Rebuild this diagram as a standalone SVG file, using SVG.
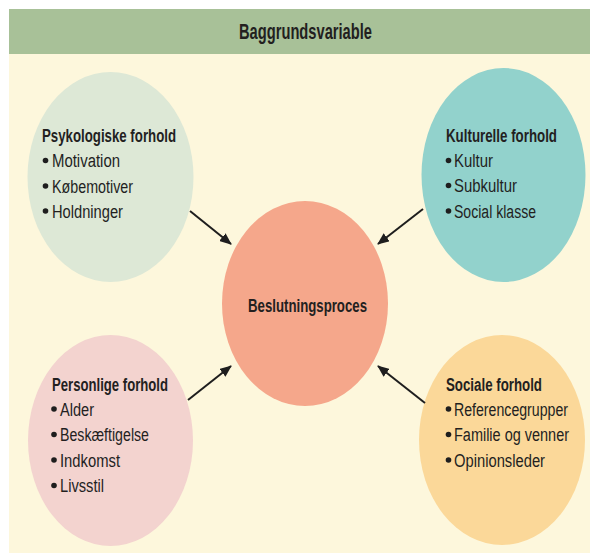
<svg xmlns="http://www.w3.org/2000/svg" width="590" height="555" viewBox="0 0 590 555">
  <defs>
    <marker id="arrow" markerUnits="userSpaceOnUse" markerWidth="12" markerHeight="10" refX="11" refY="5" orient="auto">
      <path d="M0,0 L12,5 L0,10 z" fill="#1e1e1e"/>
    </marker>
  </defs>
  <style>
    text { font-family: "Liberation Sans", Arial, sans-serif; fill: #231f1f; }
    .hdr { font-size: 22px; font-weight: bold; }
    .h { font-size: 18px; font-weight: bold; }
    .i { font-size: 18px; }
    .b { fill: #1e1e1e; }
    .conn { stroke: #1e1e1e; stroke-width: 2; fill: none; marker-end: url(#arrow); }
  </style>

  <rect x="0" y="0" width="590" height="555" fill="#ffffff"/>
  <rect x="9" y="54" width="581" height="499" fill="#fdf7dc"/>

  <g id="header">
    <rect x="9" y="9" width="581" height="45" fill="#a8c198"/>
    <text class="hdr" x="239" y="38.5" textLength="133" lengthAdjust="spacingAndGlyphs">Baggrundsvariable</text>
  </g>

  <g id="psykologiske">
    <ellipse cx="110.5" cy="177" rx="83" ry="105" fill="#dde8d6"/>
    <text class="h" x="42" y="142" textLength="134" lengthAdjust="spacingAndGlyphs">Psykologiske forhold</text>
    <circle class="b" cx="45.5" cy="160.5" r="2.8"/>
    <text class="i" x="52" y="167" textLength="68" lengthAdjust="spacingAndGlyphs">Motivation</text>
    <circle class="b" cx="45.5" cy="186" r="2.8"/>
    <text class="i" x="52" y="192.5" textLength="81" lengthAdjust="spacingAndGlyphs">Købemotiver</text>
    <circle class="b" cx="45.5" cy="211" r="2.8"/>
    <text class="i" x="52" y="217.5" textLength="71" lengthAdjust="spacingAndGlyphs">Holdninger</text>
  </g>

  <g id="kulturelle">
    <ellipse cx="503.5" cy="175" rx="82" ry="107" fill="#92d2cc"/>
    <text class="h" x="446" y="142" textLength="111" lengthAdjust="spacingAndGlyphs">Kulturelle forhold</text>
    <circle class="b" cx="448.5" cy="160.5" r="2.8"/>
    <text class="i" x="454" y="167" textLength="39" lengthAdjust="spacingAndGlyphs">Kultur</text>
    <circle class="b" cx="448.5" cy="185.5" r="2.8"/>
    <text class="i" x="454" y="192" textLength="63" lengthAdjust="spacingAndGlyphs">Subkultur</text>
    <circle class="b" cx="448.5" cy="211" r="2.8"/>
    <text class="i" x="454" y="217.5" textLength="82" lengthAdjust="spacingAndGlyphs">Social klasse</text>
  </g>

  <g id="beslutningsproces">
    <ellipse cx="305" cy="303.5" rx="83" ry="102.5" fill="#f5a78b"/>
    <text class="h" x="248" y="311.5" textLength="119" lengthAdjust="spacingAndGlyphs">Beslutningsproces</text>
  </g>

  <g id="personlige">
    <ellipse cx="110.5" cy="440.5" rx="82.5" ry="105.5" fill="#f3d3cf"/>
    <text class="h" x="52" y="391" textLength="116" lengthAdjust="spacingAndGlyphs">Personlige forhold</text>
    <circle class="b" cx="54" cy="409" r="2.8"/>
    <text class="i" x="60" y="415.5" textLength="34" lengthAdjust="spacingAndGlyphs">Alder</text>
    <circle class="b" cx="54" cy="434.5" r="2.8"/>
    <text class="i" x="60" y="441" textLength="89" lengthAdjust="spacingAndGlyphs">Beskæftigelse</text>
    <circle class="b" cx="54" cy="460" r="2.8"/>
    <text class="i" x="60" y="466.5" textLength="60" lengthAdjust="spacingAndGlyphs">Indkomst</text>
    <circle class="b" cx="54" cy="485.5" r="2.8"/>
    <text class="i" x="60" y="492" textLength="44" lengthAdjust="spacingAndGlyphs">Livsstil</text>
  </g>

  <g id="sociale">
    <ellipse cx="502" cy="440" rx="83" ry="105" fill="#fbd899"/>
    <text class="h" x="446" y="391" textLength="96" lengthAdjust="spacingAndGlyphs">Sociale forhold</text>
    <circle class="b" cx="448.5" cy="409" r="2.8"/>
    <text class="i" x="454" y="415.5" textLength="114" lengthAdjust="spacingAndGlyphs">Referencegrupper</text>
    <circle class="b" cx="448.5" cy="434.5" r="2.8"/>
    <text class="i" x="454" y="441" textLength="115" lengthAdjust="spacingAndGlyphs">Familie og venner</text>
    <circle class="b" cx="448.5" cy="460" r="2.8"/>
    <text class="i" x="454" y="466.5" textLength="91" lengthAdjust="spacingAndGlyphs">Opinionsleder</text>
  </g>

  <g id="connectors">
    <line class="conn" x1="190" y1="211" x2="231" y2="244"/>
    <line class="conn" x1="423" y1="209" x2="378" y2="244"/>
    <line class="conn" x1="188" y1="400" x2="231" y2="366"/>
    <line class="conn" x1="425" y1="403" x2="378" y2="366"/>
  </g>
</svg>
